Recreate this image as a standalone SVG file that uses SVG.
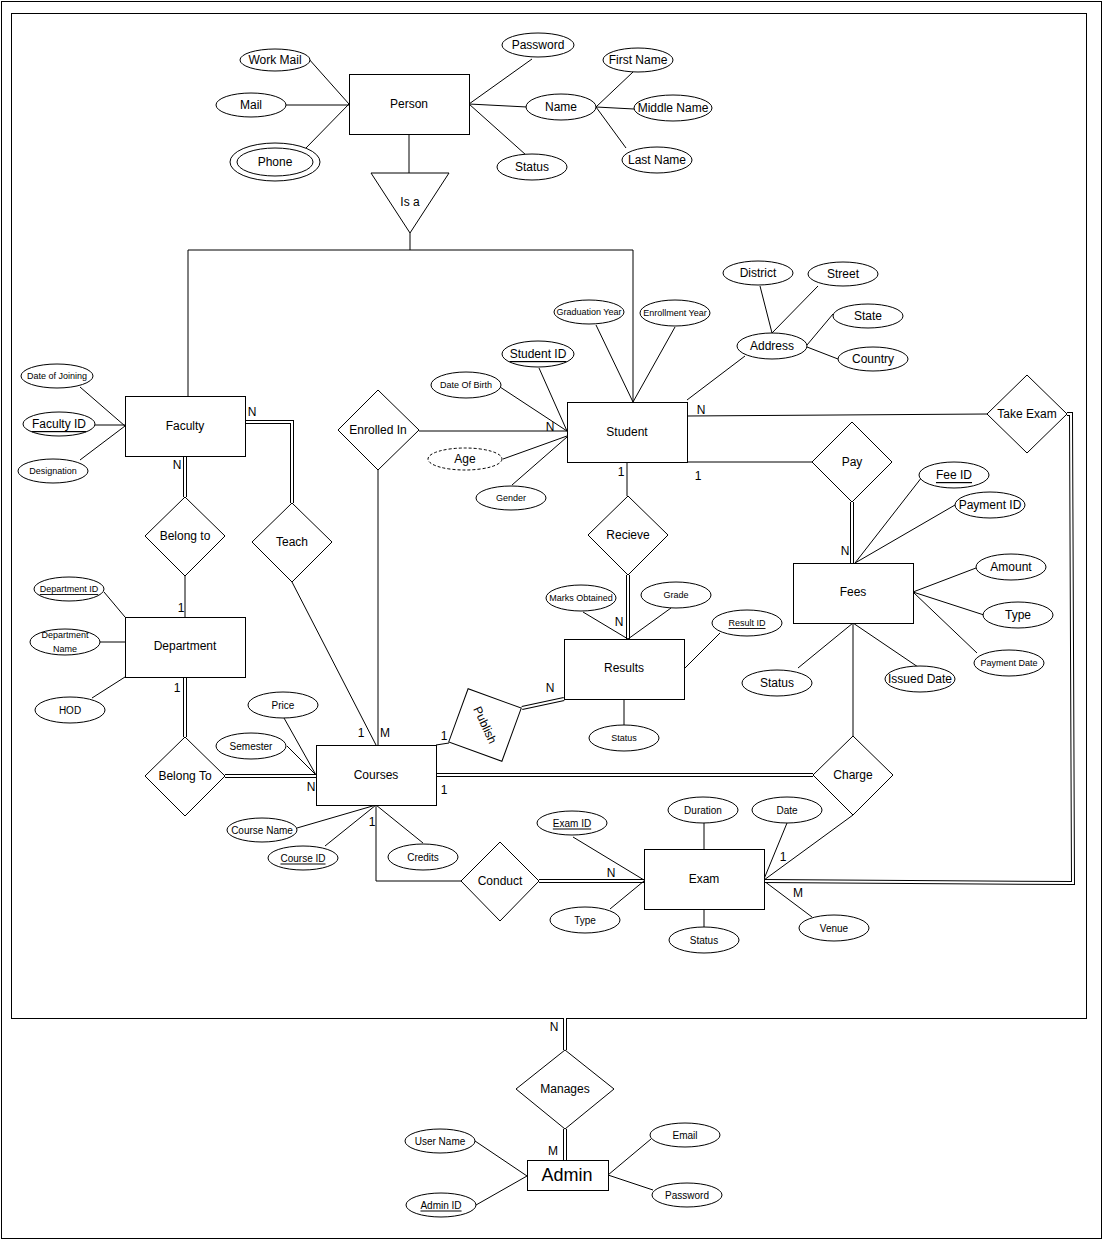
<svg xmlns="http://www.w3.org/2000/svg" width="1110" height="1250" viewBox="0 0 1110 1250">
<style>
text{font-family:"Liberation Sans",Arial,sans-serif;font-size:12px;fill:#000;text-anchor:middle;dominant-baseline:central}
.s{font-size:9px}
.m{font-size:10px}
.u{text-decoration:underline}
.e{fill:#fff;stroke:#000;stroke-width:1}
.ln{fill:none;stroke:#000;stroke-width:1}
.d1{fill:none;stroke:#000;stroke-width:4}
.d2{fill:none;stroke:#fff;stroke-width:2}
</style>
<rect x="1.5" y="1.5" width="1100" height="1237" fill="#fff" stroke="#000"/>
<rect x="11.5" y="13.5" width="1075" height="1005" fill="none" stroke="#000"/>

<g id="connectors">
<path class="ln" d="M308 58L349 104M286 105H349M306 148L349 104"/>
<path class="ln" d="M532 59L469 104M469 104L527 107M469 104L526 155M596 107L633 72M596 107L634 109M596 107L626 148"/>
<path class="ln" d="M409 134V173M410 233V250M188 250H633M188 250V396M633 250V402"/>
<path class="ln" d="M80 387L125 426M95 425H125M80 460L125 426"/>
<path class="d1" d="M185 456V497M245 422H292V503"/><path class="d2" d="M185 456V497M245 422H292V503"/>
<path class="ln" d="M185 576V617M292 582L376 745"/>
<path class="ln" d="M104 592L125 617M100 642H125M92 698L125 677"/>
<path class="d1" d="M185 677V737M225 776H316"/><path class="d2" d="M185 677V737M225 776H316"/>
<path class="ln" d="M284 718L316 775M287 746L316 775M297 828L376 805M325 846L376 805M423 843L376 805"/>
<path class="ln" d="M419 431H567M378 470V745M376 805V881H461M436 745L449 743"/>
<path class="d1" d="M436 775H813M539 881H644"/><path class="d2" d="M436 775H813M539 881H644"/>
<path class="ln" d="M573 837L644 880M610 909L644 881M704 823V849M787 823L764 879M704 909V927M812 917L764 881M764 880L853 815"/>
<path class="d1" d="M1067 414H1071L1073 883L764 881"/><path class="d2" d="M1067 414H1071L1073 883L764 881"/>
<path class="ln" d="M539 368L567 431M500 387L567 431M503 459L567 436M512 485L567 437M596 325L633 402M675 327L633 402"/>
<path class="ln" d="M687 400L745 356M760 286L772 333M818 286L772 333M833 314L807 345M838 359L807 347"/>
<path class="ln" d="M687 416L987 414M687 462H812M627 462V496"/>
<path class="d1" d="M852 502V563M628 575V639M522 708L564 699"/><path class="d2" d="M852 502V563M628 575V639M522 708L564 699"/>
<path class="ln" d="M583 612L628 639M671 608L628 639M720 633L685 668M624 699V725"/>
<path class="ln" d="M922 477L855 563M955 505L855 563M976 568L913 592M984 615L913 592M977 653L913 592M798 668L853 623M918 667L853 623M853 623V736"/>
<path class="d1" d="M565 1018V1050M565 1129V1160"/><path class="d2" d="M565 1018V1050M565 1129V1160"/>
<path class="ln" d="M475 1141L527 1176M476 1205L527 1176M651 1139L608 1175M653 1190L608 1175"/>
<text x="252" y="412">N</text>
<text x="177" y="465">N</text>
<text x="181" y="608">1</text>
<text x="177" y="688">1</text>
<text x="311" y="787">N</text>
<text x="361" y="733">1</text>
<text x="385" y="733">M</text>
<text x="444" y="736">1</text>
<text x="444" y="790">1</text>
<text x="372" y="822">1</text>
<text x="550" y="427">N</text>
<text x="701" y="410">N</text>
<text x="621" y="472">1</text>
<text x="698" y="476">1</text>
<text x="619" y="622">N</text>
<text x="550" y="688">N</text>
<text x="845" y="551">N</text>
<text x="848" y="616">1</text>
<text x="611" y="873">N</text>
<text x="783" y="857">1</text>
<text x="798" y="893">M</text>
<text x="554" y="1027">N</text>
<text x="553" y="1151">M</text>
</g>

<g id="person"><rect class="e" x="349.5" y="74.5" width="120" height="60"/><text x="409" y="104">Person</text></g>
<g id="attr-workmail"><ellipse class="e" cx="275" cy="60" rx="35" ry="11"/><text x="275" y="60">Work Mail</text></g>
<g id="attr-mail"><ellipse class="e" cx="251" cy="105" rx="35" ry="12"/><text x="251" y="105">Mail</text></g>
<g id="attr-phone"><ellipse class="e" cx="275" cy="162" rx="45" ry="19"/><ellipse class="e" cx="275" cy="162" rx="38" ry="14"/><text x="275" y="162">Phone</text></g>
<g id="attr-password"><ellipse class="e" cx="538" cy="45" rx="36" ry="12"/><text x="538" y="45">Password</text></g>
<g id="attr-name"><ellipse class="e" cx="561" cy="107" rx="35" ry="13"/><text x="561" y="107">Name</text></g>
<g id="attr-status-p"><ellipse class="e" cx="532" cy="167" rx="35" ry="13"/><text x="532" y="167">Status</text></g>
<g id="attr-firstname"><ellipse class="e" cx="638" cy="60" rx="35" ry="12"/><text x="638" y="60">First Name</text></g>
<g id="attr-middlename"><ellipse class="e" cx="673" cy="108" rx="39" ry="13"/><text x="673" y="108">Middle Name</text></g>
<g id="attr-lastname"><ellipse class="e" cx="657" cy="160" rx="35" ry="13"/><text x="657" y="160">Last Name</text></g>
<g id="isa"><path class="e" d="M371 173H449L410 233Z"/><text x="410" y="202">Is a</text></g>

<g id="faculty"><rect class="e" x="125.5" y="396.5" width="120" height="60"/><text x="185" y="426">Faculty</text></g>
<g id="attr-doj"><ellipse class="e" cx="57" cy="376" rx="36" ry="12"/><text class="s" x="57" y="376">Date of Joining</text></g>
<g id="attr-facultyid"><ellipse class="e" cx="59" cy="424" rx="36" ry="12"/><text class="u" x="59" y="424">Faculty ID</text></g>
<g id="attr-designation"><ellipse class="e" cx="53" cy="471" rx="35" ry="12"/><text class="s" x="53" y="471">Designation</text></g>
<g id="belongto1"><path class="e" d="M185 497L225 536L185 576L145 536Z"/><text x="185" y="536">Belong to</text></g>
<g id="teach"><path class="e" d="M292 503L332 542L292 582L252 542Z"/><text x="292" y="542">Teach</text></g>

<g id="department"><rect class="e" x="125.5" y="617.5" width="120" height="60"/><text x="185" y="646">Department</text></g>
<g id="attr-deptid"><ellipse class="e" cx="69" cy="589" rx="35" ry="12"/><text class="s u" x="69" y="589">Department ID</text></g>
<g id="attr-deptname"><ellipse class="e" cx="65" cy="642" rx="35" ry="13"/><text class="s" x="65" y="635">Department</text><text class="s" x="65" y="649">Name</text></g>
<g id="attr-hod"><ellipse class="e" cx="70" cy="710" rx="35" ry="13"/><text class="m" x="70" y="710">HOD</text></g>
<g id="belongto2"><path class="e" d="M185 737L225 776L185 816L145 776Z"/><text x="185" y="776">Belong To</text></g>

<g id="courses"><rect class="e" x="316.5" y="745.5" width="120" height="60"/><text x="376" y="775">Courses</text></g>
<g id="attr-price"><ellipse class="e" cx="283" cy="705" rx="35" ry="13"/><text class="m" x="283" y="705">Price</text></g>
<g id="attr-semester"><ellipse class="e" cx="251" cy="746" rx="35" ry="13"/><text class="m" x="251" y="746">Semester</text></g>
<g id="attr-coursename"><ellipse class="e" cx="262" cy="830" rx="35" ry="12"/><text class="m" x="262" y="830">Course Name</text></g>
<g id="attr-courseid"><ellipse class="e" cx="303" cy="858" rx="35" ry="12"/><text class="m u" x="303" y="858">Course ID</text></g>
<g id="attr-credits"><ellipse class="e" cx="423" cy="857" rx="35" ry="13"/><text class="m" x="423" y="857">Credits</text></g>
<g id="enrolledin"><path class="e" d="M378 390L419 430L378 470L338 430Z"/><text x="378" y="430">Enrolled In</text></g>
<g id="publish" transform="translate(485 725) rotate(65)"><path class="e" d="M0 -40L40 0L0 40L-40 0Z"/><text x="0" y="0">Publish</text></g>
<g id="conduct"><path class="e" d="M500 842L539 881L500 921L461 881Z"/><text x="500" y="881">Conduct</text></g>

<g id="exam"><rect class="e" x="644.5" y="849.5" width="120" height="60"/><text x="704" y="879">Exam</text></g>
<g id="attr-examid"><ellipse class="e" cx="572" cy="823" rx="35" ry="12"/><text class="m u" x="572" y="823">Exam ID</text></g>
<g id="attr-examtype"><ellipse class="e" cx="585" cy="920" rx="35" ry="13"/><text class="m" x="585" y="920">Type</text></g>
<g id="attr-duration"><ellipse class="e" cx="703" cy="810" rx="35" ry="13"/><text class="m" x="703" y="810">Duration</text></g>
<g id="attr-date"><ellipse class="e" cx="787" cy="810" rx="35" ry="13"/><text class="m" x="787" y="810">Date</text></g>
<g id="attr-examstatus"><ellipse class="e" cx="704" cy="940" rx="35" ry="13"/><text class="m" x="704" y="940">Status</text></g>
<g id="attr-venue"><ellipse class="e" cx="834" cy="928" rx="35" ry="13"/><text class="m" x="834" y="928">Venue</text></g>
<g id="charge"><path class="e" d="M853 736L893 775L853 815L813 775Z"/><text x="853" y="775">Charge</text></g>

<g id="student"><rect class="e" x="567.5" y="402.5" width="120" height="60"/><text x="627" y="432">Student</text></g>
<g id="attr-studentid"><ellipse class="e" cx="538" cy="354" rx="36" ry="13"/><text class="u" x="538" y="354">Student ID</text></g>
<g id="attr-dob"><ellipse class="e" cx="466" cy="385" rx="35" ry="13"/><text class="s" x="466" y="385">Date Of Birth</text></g>
<g id="attr-gradyear"><ellipse class="e" cx="589" cy="312" rx="35" ry="12"/><text class="s" x="589" y="312">Graduation Year</text></g>
<g id="attr-enrollyear"><ellipse class="e" cx="675" cy="313" rx="35" ry="13"/><text class="s" x="675" y="313">Enrollment Year</text></g>
<g id="attr-age"><ellipse class="e" cx="465" cy="459" rx="37" ry="11" stroke-dasharray="3 2"/><text x="465" y="459">Age</text></g>
<g id="attr-gender"><ellipse class="e" cx="511" cy="498" rx="35" ry="12"/><text class="s" x="511" y="498">Gender</text></g>
<g id="attr-address"><ellipse class="e" cx="772" cy="346" rx="35" ry="13"/><text x="772" y="346">Address</text></g>
<g id="attr-district"><ellipse class="e" cx="758" cy="273" rx="35" ry="12"/><text x="758" y="273">District</text></g>
<g id="attr-street"><ellipse class="e" cx="843" cy="274" rx="35" ry="12"/><text x="843" y="274">Street</text></g>
<g id="attr-state"><ellipse class="e" cx="868" cy="316" rx="35" ry="12"/><text x="868" y="316">State</text></g>
<g id="attr-country"><ellipse class="e" cx="873" cy="359" rx="35" ry="12"/><text x="873" y="359">Country</text></g>
<g id="takeexam"><path class="e" d="M1027 375L1067 414L1027 453L987 414Z"/><text x="1027" y="414">Take Exam</text></g>
<g id="pay"><path class="e" d="M852 422L892 462L852 502L812 462Z"/><text x="852" y="462">Pay</text></g>
<g id="recieve"><path class="e" d="M628 496L668 535L628 575L588 535Z"/><text x="628" y="535">Recieve</text></g>

<g id="results"><rect class="e" x="564.5" y="639.5" width="120" height="60"/><text x="624" y="668">Results</text></g>
<g id="attr-marks"><ellipse class="e" cx="581" cy="598" rx="35" ry="13"/><text class="s" x="581" y="598">Marks Obtained</text></g>
<g id="attr-grade"><ellipse class="e" cx="676" cy="595" rx="35" ry="13"/><text class="s" x="676" y="595">Grade</text></g>
<g id="attr-resultid"><ellipse class="e" cx="747" cy="623" rx="35" ry="13"/><text class="s u" x="747" y="623">Result ID</text></g>
<g id="attr-resultstatus"><ellipse class="e" cx="624" cy="738" rx="35" ry="13"/><text class="s" x="624" y="738">Status</text></g>

<g id="fees"><rect class="e" x="793.5" y="563.5" width="120" height="60"/><text x="853" y="592">Fees</text></g>
<g id="attr-feeid"><ellipse class="e" cx="954" cy="475" rx="35" ry="13"/><text class="u" x="954" y="475">Fee ID</text></g>
<g id="attr-paymentid"><ellipse class="e" cx="990" cy="505" rx="35" ry="13"/><text x="990" y="505">Payment ID</text></g>
<g id="attr-amount"><ellipse class="e" cx="1011" cy="567" rx="35" ry="13"/><text x="1011" y="567">Amount</text></g>
<g id="attr-feetype"><ellipse class="e" cx="1018" cy="615" rx="35" ry="13"/><text x="1018" y="615">Type</text></g>
<g id="attr-paymentdate"><ellipse class="e" cx="1009" cy="663" rx="35" ry="13"/><text class="s" x="1009" y="663">Payment Date</text></g>
<g id="attr-feestatus"><ellipse class="e" cx="777" cy="683" rx="35" ry="13"/><text x="777" y="683">Status</text></g>
<g id="attr-issueddate"><ellipse class="e" cx="920" cy="679" rx="35" ry="13"/><text x="920" y="679">Issued Date</text></g>

<g id="manages"><path class="e" d="M565 1050L614 1089L565 1129L516 1089Z"/><text x="565" y="1089">Manages</text></g>
<g id="admin"><rect class="e" x="527.5" y="1160.5" width="81" height="30"/><text x="567" y="1175" style="font-size:18px">Admin</text></g>
<g id="attr-username"><ellipse class="e" cx="440" cy="1141" rx="35" ry="12"/><text class="m" x="440" y="1141">User Name</text></g>
<g id="attr-adminid"><ellipse class="e" cx="441" cy="1205" rx="35" ry="12"/><text class="m u" x="441" y="1205">Admin ID</text></g>
<g id="attr-email"><ellipse class="e" cx="685" cy="1135" rx="35" ry="12"/><text class="m" x="685" y="1135">Email</text></g>
<g id="attr-adminpw"><ellipse class="e" cx="687" cy="1195" rx="35" ry="12"/><text class="m" x="687" y="1195">Password</text></g>
</svg>
